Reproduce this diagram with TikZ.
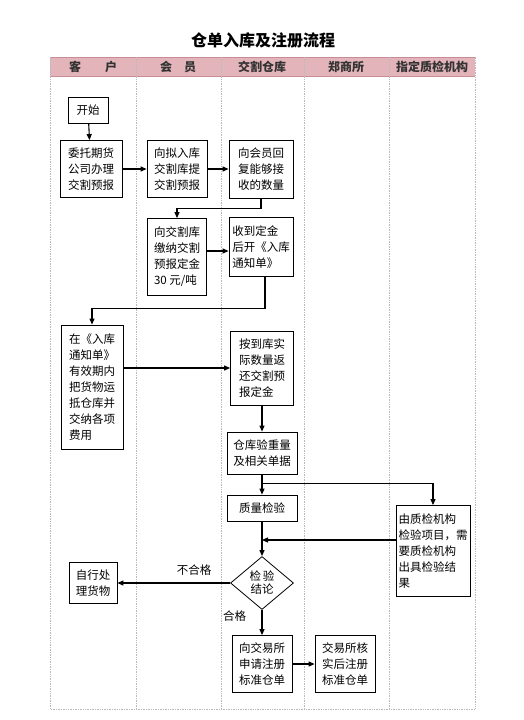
\documentclass[tikz,border=0pt]{standalone}
\usepackage{fontspec}
\setmainfont{Noto Sans CJK SC}
\usetikzlibrary{arrows.meta,shapes.geometric,calc}

\definecolor{headpink}{RGB}{227,181,187}
\definecolor{headline}{RGB}{200,140,150}

\tikzset{
  proc/.style={draw,line width=0.8pt,align=left,inner sep=0pt,
    font=\fontsize{11.5}{16}\selectfont},
  flow/.style={line width=1.1pt,-{Triangle[length=6pt,width=5pt]}},
  lane/.style={gray!55,densely dotted,line width=0.7pt},
  lanehead/.style={font=\fontsize{12}{14}\selectfont\bfseries,text=black!80}
}

\begin{document}
\begin{tikzpicture}[x=1pt,y=-1pt]
        \useasboundingbox (0,0) rectangle (524,720);
        % title and lanes
        \node[font=\fontsize{16}{19}\selectfont\bfseries] (title) at (263,40) {仓单入库及注册流程};
        \fill[headpink] (50,57) rectangle (475,76);
        \draw[headline,line width=0.6pt] (50,57)--(475,57) (50,76)--(475,76);
        \draw[lane] (50,57)--(50,709)--(475,709)--(475,57);
        \draw[lane] (136,57)--(136,709);\draw[lane] (221,57)--(221,709);
        \draw[lane] (304,57)--(304,709);\draw[lane] (389,57)--(389,709);
        \node[lanehead] (kehu) at (93,67) {客\quad\quad 户};
        \node[lanehead] (huiyuan) at (178,67) {会\quad 员};
        \node[lanehead] (cangku) at (262,67) {交割仓库};
        \node[lanehead] (zsj) at (346,67) {郑商所};
        \node[lanehead] (zhijian) at (432,67) {指定质检机构};
        % boxes
        \node[proc,minimum width=40pt,minimum height=26pt] (start) at (88,110) {开始};
        \node[proc,minimum width=62pt,minimum height=57pt] (a1) at (91,169) {委托期货\\公司办理\\交割预报};
        \node[proc,minimum width=60pt,minimum height=57pt] (b1) at (177,169) {向拟入库\\交割库提\\交割预报};
        \node[proc,minimum width=64pt,minimum height=58pt] (c1) at (261,169) {向会员回\\复能够接\\收的数量};
        \node[proc,minimum width=59pt,minimum height=77pt] (b2) at (177,257) {向交割库\\缴纳交割\\预报定金\\30 元/吨};
        \node[proc,minimum width=64pt,minimum height=59pt] (c2) at (261,247) {收到定金\\后开《入库\\通知单》};
        \node[proc,minimum width=62pt,minimum height=124pt] (d1) at (92,387) {在《入库\\通知单》\\有效期内\\把货物运\\抵仓库并\\交纳各项\\费用};
        \node[proc,minimum width=63pt,minimum height=74pt] (d2) at (262,368) {按到库实\\际数量返\\还交割预\\报定金};
        \node[proc,minimum width=70pt,minimum height=42pt] (d3) at (262,453) {仓库验重量\\及相关单据};
        \node[proc,minimum width=70pt,minimum height=26pt] (d4) at (262,508) {质量检验};
        \node[proc,minimum width=74pt,minimum height=91pt] (q) at (433,551) {由质检机构\\检验项目，需\\要质检机构\\出具检验结\\果};
        \node[draw,diamond,line width=0.8pt,minimum width=63pt,minimum height=53pt,inner sep=0pt,align=center,
          font=\fontsize{11.5}{13}\selectfont] (dia) at (262,583) {检\,验\\结论};
        \node[proc,minimum width=48pt,minimum height=41pt] (self) at (93,583) {自行处\\理货物};
        \node[proc,minimum width=60pt,minimum height=57pt] (e1) at (262,664) {向交易所\\申请注册\\标准仓单};
        \node[proc,minimum width=60pt,minimum height=57pt] (e2) at (345,664) {交易所核\\实后注册\\标准仓单};
        % arrows
        \draw[flow] (start)--(a1);
        \draw[flow] (a1)--(b1);
        \draw[flow] (b1)--(c1);
        \draw[flow] (c1.south)--++(0,10)-|(b2.north);
        \draw[flow] ([yshift=6pt]b2.east)--([yshift=6pt]b2.east -| c2.west);
        \draw[flow] ([xshift=4pt]c2.south)--++(0,32)-|(d1.north);
        \draw[flow] (d1.east |- d2.west)--(d2.west);
        \draw[flow] (d2)--(d3);
        \draw[flow] (d3)--(d4);
        \coordinate (br) at ($(d3.south)+(0,9)$);
        \draw[flow] (br)-|(q.north);
        \draw[flow] (d4)--(dia);
        \draw[flow] ([yshift=11pt]q.west)--([yshift=11pt]q.west -| dia.north);
        \draw[flow] (dia.west)--(self.east) node[pos=0.32,above=4pt,font=\fontsize{11.5}{13}\selectfont]{不合格};
        \draw[flow] (dia.south)--(e1.north) node[pos=0.25,left=12pt,font=\fontsize{11.5}{13}\selectfont]{合格};
        \draw[flow] (e1)--(e2);
      \end{tikzpicture}
\end{document}
